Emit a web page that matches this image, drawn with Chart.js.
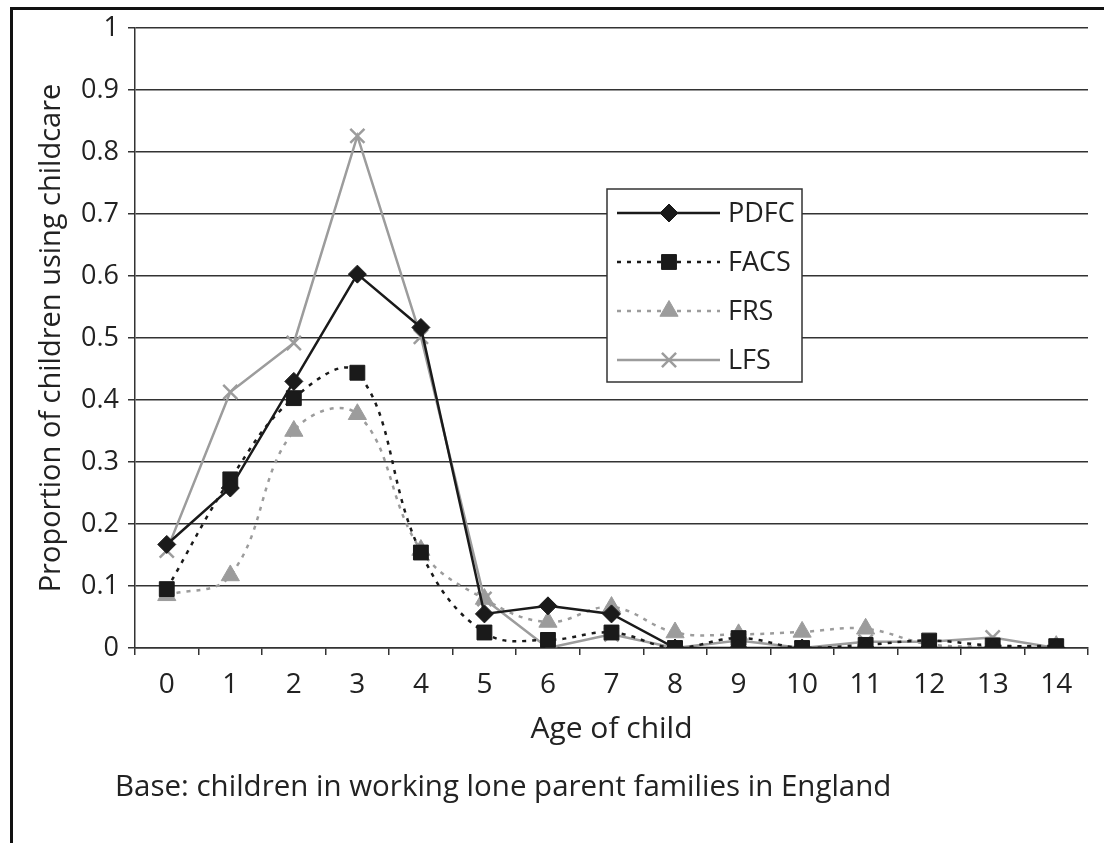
<!DOCTYPE html>
<html lang="en">
<head>
  <meta charset="UTF-8">
  <title>Proportion of children using childcare</title>
  <style>
    body { margin: 0; background: #fff; font-family: 'Open Sans', sans-serif; }
    #wrap { position: relative; width: 1104px; height: 843px; overflow: hidden; }
    #frame { position: absolute; left: 10px; top: 7px; width: 1200px; height: 1000px;
             border-left: 3px solid #111; border-top: 3px solid #111; }
    #chart { position: absolute; left: 0; top: 0; }
    #note { position: absolute; left: 115px; top: 765px; margin: 0; font-size: 29.5px; line-height: 40px; color: #222; }
  </style>
</head>
<body>
<div id="wrap">
  <div id="frame"></div>
  <canvas id="chart" width="1104" height="843"></canvas>
  <p id="note">Base: children in working lone parent families in England</p>
</div>

<script src="https://cdn.jsdelivr.net/npm/chart.js"></script>
<script>
  const ages = ['0','1','2','3','4','5','6','7','8','9','10','11','12','13','14'];
  const yTickLabels = ['0','0.1','0.2','0.3','0.4','0.5','0.6','0.7','0.8','0.9','1'];

  const pdfc = [0.167, 0.258, 0.43, 0.603, 0.517, 0.055, 0.068, 0.055, 0, 0, 0, 0, 0, 0, 0];
  const facs = [0.095, 0.272, 0.403, 0.444, 0.154, 0.025, 0.013, 0.025, 0, 0.016, 0, 0.005, 0.012, 0.004, 0.003];
  const frs  = [0.085, 0.117, 0.35, 0.377, 0.158, 0.079, 0.042, 0.066, 0.025, 0.022, 0.026, 0.031, 0.006, 0.003, 0.003];
  const lfs  = [0.157, 0.413, 0.492, 0.826, 0.502, 0.079, 0, 0.022, 0, 0.012, 0, 0.01, 0.01, 0.017, 0];

  const dark = '#1a1a1a';
  const grey = '#9c9c9c';
  const textCol = '#222';
  const font = "'Open Sans', sans-serif";

  // legend drawn inside the plot, like the original
  const boxLegend = {
    id: 'boxLegend',
    afterDraw(chart) {
      const ctx = chart.ctx;
      const x0 = 607, y0 = 189, w = 195, h = 193;
      ctx.save();
      ctx.fillStyle = '#fff';
      ctx.fillRect(x0, y0, w, h);
      ctx.strokeStyle = '#333';
      ctx.lineWidth = 1.5;
      ctx.strokeRect(x0, y0, w, h);
      chart.data.datasets.forEach((ds, i) => {
        const y = 213 + i * 49;
        ctx.save();
        ctx.strokeStyle = ds.borderColor;
        ctx.lineWidth = ds.borderWidth;
        ctx.setLineDash(ds.borderDash || []);
        ctx.beginPath();
        ctx.moveTo(617, y);
        ctx.lineTo(720, y);
        ctx.stroke();
        ctx.restore();
        ctx.save();
        ctx.fillStyle = ds.pointBackgroundColor;
        ctx.strokeStyle = ds.pointBorderColor;
        ctx.lineWidth = ds.pointBorderWidth;
        Chart.helpers.drawPoint(ctx, {pointStyle: ds.pointStyle, radius: ds.pointRadius, borderWidth: ds.pointBorderWidth}, 669, y);
        ctx.restore();
        ctx.fillStyle = textCol;
        ctx.font = '27px ' + font;
        ctx.textBaseline = 'middle';
        ctx.fillText(ds.label, 728, y + 1);
      });
      ctx.restore();
    }
  };

  new Chart(document.getElementById('chart'), {
    type: 'line',
    data: {
      labels: ages,
      datasets: [
        { label: 'PDFC', data: pdfc, borderColor: dark, borderWidth: 2.5, tension: 0,
          pointStyle: 'rectRot', pointRadius: 9, pointBackgroundColor: dark, pointBorderColor: dark, pointBorderWidth: 1 },
        { label: 'FACS', data: facs, borderColor: dark, borderWidth: 2.5, borderDash: [4, 6], tension: 0.4,
          pointStyle: 'rect', pointRadius: 10.5, pointBackgroundColor: dark, pointBorderColor: dark, pointBorderWidth: 1 },
        { label: 'FRS', data: frs, borderColor: grey, borderWidth: 2.5, borderDash: [4, 6], tension: 0.4,
          pointStyle: 'triangle', pointRadius: 10.5, pointBackgroundColor: grey, pointBorderColor: grey, pointBorderWidth: 1 },
        { label: 'LFS', data: lfs, borderColor: grey, borderWidth: 2.5, tension: 0,
          pointStyle: 'crossRot', pointRadius: 10, pointBackgroundColor: grey, pointBorderColor: grey, pointBorderWidth: 2.5 }
      ]
    },
    options: {
      responsive: false,
      animation: false,
      layout: { padding: { left: 12, top: 28, right: 16, bottom: 0 } },
      plugins: { legend: { display: false }, tooltip: { enabled: false } },
      scales: {
        x: {
          offset: true,
          grid: { offset: true, drawOnChartArea: false, drawTicks: true, tickLength: 7, color: '#333', lineWidth: 1.5 },
          border: { display: true, color: '#333', width: 1.5 },
          ticks: { color: textCol, font: { family: font, size: 28 }, padding: 13, maxRotation: 0, autoSkip: false },
          title: { display: true, text: 'Age of child', color: textCol, font: { family: font, size: 30 }, padding: { top: 0, bottom: 96 } },
          afterFit(scale) { scale.height = 195; }
        },
        y: {
          min: 0, max: 1,
          grid: { color: '#333', lineWidth: 1.5, tickLength: 7 },
          border: { display: true, color: '#333', width: 1.5 },
          ticks: { stepSize: 0.1, color: textCol, font: { family: font, size: 27 }, padding: 9,
                   callback: (v, i) => yTickLabels[i] },
          title: { display: true, text: 'Proportion of children using childcare', color: textCol,
                   font: { family: font, size: 29 }, padding: { top: 22, bottom: 0 } },
          afterFit(scale) { scale.width = 123; }
        }
      }
    },
    plugins: [boxLegend]
  });
</script>
</body>
</html>
